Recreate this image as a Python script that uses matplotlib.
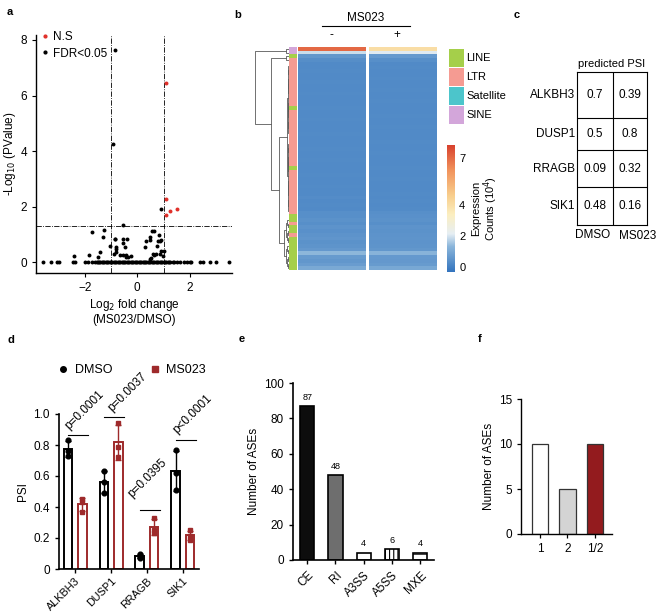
import matplotlib
matplotlib.use('Agg')
import matplotlib.pyplot as plt
import numpy as np
from matplotlib.colors import LinearSegmentedColormap, Normalize, to_rgb
from matplotlib.patches import Rectangle
from matplotlib.lines import Line2D
from matplotlib.cm import ScalarMappable

plt.rcParams['font.family'] = ['Liberation Sans', 'DejaVu Sans']
plt.rcParams['font.size'] = 8
plt.rcParams['axes.linewidth'] = 1.0
plt.rcParams['hatch.linewidth'] = 0.8

# ---------------- data ----------------
# panel a (volcano)
volc_black = [(-0.84, 7.64), (-0.92, 4.26), (0.91, 1.91), (-0.56, 1.33), (-1.26, 1.15),
              (-1.73, 1.07), (-1.31, 0.89), (-0.86, 0.82), (-0.83, 0.82), (-0.56, 0.82),
              (-0.39, 0.85), (-1.02, 0.60), (-0.82, 0.56), (-0.82, 0.46), (-0.82, 0.38),
              (-0.48, 0.56), (-0.56, 0.68), (-0.65, 0.25), (-0.55, 0.25), (-0.43, 0.25),
              (-2.39, 0.21), (-1.82, 0.25), (-1.48, 0.18), (-1.40, 0.35), (-0.90, 0.28),
              (-0.42, 0.20), (-0.34, 0.20), (-0.25, 0.23), (0.30, 0.55), (0.33, 0.77),
              (0.47, 0.79), (0.50, 0.91), (0.57, 1.13), (0.63, 1.13), (0.77, 0.77),
              (0.81, 0.97), (0.85, 0.76), (0.92, 0.80), (0.75, 0.59), (0.92, 0.42),
              (0.59, 0.30), (0.65, 0.27), (0.72, 0.28), (0.85, 0.29), (1.00, 0.40),
              (0.99, 0.23), (0.47, 0.11), (0.51, 0.14)]
volc_red = [(1.08, 6.44), (1.08, 2.27), (1.25, 1.83), (1.52, 1.92), (1.10, 1.70)]
volc_zero_x = [-3.57, -3.29, -3.06, -2.96, -2.45, -2.36, -1.97, -1.89, -1.71, -1.60, -1.54,
               -1.50, -1.45, -1.40, -1.35, -1.30, -1.25, -1.20, -1.15, -1.10, -1.05, -1.00,
               -0.95, -0.90, -0.85, -0.80, -0.75, -0.70, -0.65, -0.60, -0.55, -0.50, -0.45,
               -0.40, -0.35, -0.30, -0.25, -0.20, -0.15, -0.10, -0.05, 0.00, 0.05, 0.10,
               0.15, 0.20, 0.25, 0.30, 0.35, 0.40, 0.45, 0.50, 0.55, 0.60, 0.65, 0.70,
               0.75, 0.80, 0.85, 0.90, 0.95, 1.00, 1.05, 1.10, 1.15, 1.20, 1.25,
               1.34, 1.41, 1.51, 1.63, 1.76, 1.89, 1.99, 2.04, 2.40, 2.50, 2.78, 3.00, 3.50]

# panel b (heatmap)
heat_minus = [7.0, 1.9, 0.6, 0.38, 0.3, 0.3, 0.32, 0.3, 0.3, 0.31,
              0.3, 0.3, 0.33, 0.3, 0.3, 0.3, 0.31, 0.3, 0.3, 0.32,
              0.3, 0.3, 0.3, 0.31, 0.3, 0.3, 0.3, 0.33, 0.3, 0.3,
              0.31, 0.3, 0.3, 0.3, 0.32, 0.3, 0.3, 0.31, 0.3, 0.3,
              0.34, 0.3, 0.32, 0.3, 0.42, 0.4, 0.48, 0.42, 0.52, 0.45,
              0.5, 0.58, 0.48, 0.55, 0.62, 1.35, 0.7, 0.6, 0.72, 1.05]
heat_plus = [4.0, 2.1, 0.65, 0.4, 0.3, 0.31, 0.3, 0.3, 0.32, 0.3,
             0.3, 0.31, 0.3, 0.3, 0.33, 0.3, 0.3, 0.3, 0.31, 0.3,
             0.3, 0.32, 0.3, 0.3, 0.3, 0.31, 0.3, 0.3, 0.32, 0.3,
             0.3, 0.3, 0.31, 0.3, 0.3, 0.32, 0.3, 0.3, 0.3, 0.31,
             0.3, 0.33, 0.3, 0.32, 0.4, 0.43, 0.46, 0.4, 0.5, 0.47,
             0.52, 0.55, 0.5, 0.53, 0.6, 1.3, 0.68, 0.62, 0.7, 1.0]
row_types = list("PPGR" + "RRRRRRRRRRRRG" + "RRRRRRRRRRRRRRRG" + "RRRRRRRRRRRRG" + "GRGGRGGGGGGGGG")
repeat_classes = ['LINE', 'LTR', 'Satellite', 'SINE']
repeat_codes = ['G', 'R', 'C', 'P']
repeat_colors = ['#a5cf4a', '#f59b92', '#4cc5cb', '#d3a6da']
cbar_ticks = [0, 2, 4, 7]

# panel c (table)
table_genes = ['ALKBH3', 'DUSP1', 'RRAGB', 'SIK1']
psi_dmso = [0.7, 0.5, 0.09, 0.48]
psi_ms023 = [0.39, 0.8, 0.32, 0.16]

# panel d
genes = ['ALKBH3', 'DUSP1', 'RRAGB', 'SIK1']
dmso_pts = [[0.83, 0.76, 0.73], [0.63, 0.56, 0.49], [0.10, 0.08, 0.07], [0.77, 0.62, 0.51]]
ms023_pts = [[0.45, 0.43, 0.37], [0.94, 0.79, 0.72], [0.33, 0.25, 0.23], [0.25, 0.21, 0.19]]
p_labels = ['p=0.0001', 'p=0.0037', 'p=0.0395', 'p<0.0001']
sig_y = [0.865, 0.98, 0.38, 0.83]

# panel e
ase_types = ['CE', 'RI', 'A3SS', 'A5SS', 'MXE']
ase_counts = [87, 48, 4, 6, 4]

# panel f
f_labels = ['1', '2', '1/2']
f_counts = [10, 5, 10]

# ---------------- figure ----------------
W, H = 662, 616
fig = plt.figure(figsize=(W / 100, H / 100), dpi=100)


def add_ax(l, t, r, b):
    return fig.add_axes([l / W, 1 - b / H, (r - l) / W, (b - t) / H])


def fx(px):
    return px / W


def fy(py):
    return 1 - py / H


def panel_label(px, py, s):
    fig.text(fx(px), fy(py), s, fontsize=8, fontweight='bold', ha='left', va='center')


DARKRED = '#9e2a2b'
FS = 8.5

# ---- panel a ----
ax = add_ax(36, 35, 232, 273)
ax.scatter(volc_zero_x, np.zeros(len(volc_zero_x)), s=8, c='black', lw=0, zorder=3)
bx, by = zip(*volc_black)
ax.scatter(bx, by, s=8, c='black', lw=0, zorder=3)
rx, ry = zip(*volc_red)
ax.scatter(rx, ry, s=8, c='#e0302a', lw=0, zorder=3)
ax.axvline(-1, color='black', lw=0.6, ls='-.')
ax.axvline(1, color='black', lw=0.6, ls='-.')
ax.axhline(-np.log10(0.05), color='black', lw=0.6, ls='-.')
ax.set_xlim(-3.85, 3.6)
ax.set_ylim(-0.39, 8.18)
ax.set_xticks([-2, 0, 2])
ax.set_yticks([0, 2, 4, 6, 8])
for s in ['top', 'right']:
    ax.spines[s].set_visible(False)
ax.tick_params(length=3, labelsize=FS)
ax.set_ylabel('-Log$_{10}$ (PValue)', fontsize=FS, labelpad=2)
ax.set_xlabel('Log$_2$ fold change\n(MS023/DMSO)', fontsize=FS, labelpad=2, linespacing=1.1)
h_ns = Line2D([], [], ls='none', marker='o', ms=2, color='#e0302a')
h_fdr = Line2D([], [], ls='none', marker='o', ms=2, color='black')
ax.legend([h_ns, h_fdr], ['N.S', 'FDR<0.05'], loc='upper left', frameon=False, fontsize=FS,
          handlelength=0.6, handletextpad=0.3, borderaxespad=0.1, labelspacing=0.35,
          bbox_to_anchor=(0.0, 1.04))
panel_label(7, 12, 'a')

# ---- panel b ----
cmap = LinearSegmentedColormap.from_list('expr', [(0.0, '#3273bd'), (0.2, '#8ab5da'),
                                                  (0.3, '#e6eef3'), (0.45, '#fbeec0'),
                                                  (0.6, '#f8cf8e'), (0.8, '#f1935c'),
                                                  (1.0, '#d7402d')])
norm = Normalize(vmin=-0.3, vmax=7.8)
n = len(heat_minus)
ax_h = add_ax(298, 47, 437, 270)
ax_h.imshow(np.array(heat_minus)[:, None], extent=(0, 0.978, n, 0), aspect='auto',
            cmap=cmap, norm=norm, interpolation='nearest')
ax_h.imshow(np.array(heat_plus)[:, None], extent=(1.022, 2, n, 0), aspect='auto',
            cmap=cmap, norm=norm, interpolation='nearest')
ax_h.set_xlim(0, 2)
ax_h.set_ylim(n, 0)
ax_h.axis('off')

ax_r = add_ax(289, 47, 297, 270)
code_to_color = dict(zip(repeat_codes, repeat_colors))
rgb = np.array([[to_rgb(code_to_color[c])] for c in row_types[:n]])
ax_r.imshow(rgb, extent=(0, 1, n, 0), aspect='auto', interpolation='nearest')
ax_r.set_xlim(0, 1)
ax_r.set_ylim(n, 0)
ax_r.axis('off')

ax_d = add_ax(252, 47, 289, 270)


def bal(lo, hi, h):
    if hi - lo == 1:
        return lo
    mid = (lo + hi) // 2
    return (h, bal(lo, mid, h * 0.65), bal(mid, hi, h * 0.65))


tree = (1.0, (0.08, 0, 1), (0.54, (0.10, 2, 3), (0.29, bal(4, 46, 0.06), bal(46, 60, 0.14))))


def draw(node):
    if isinstance(node, int):
        return node + 0.5, 0.0
    h, L, R = node
    yl, hl = draw(L)
    yr, hr = draw(R)
    ax_d.plot([hl, h, h, hr], [yl, yl, yr, yr], color='#5a5a5a', lw=0.6)
    return (yl + yr) / 2, h


draw(tree)
ax_d.set_xlim(1.08, 0)
ax_d.set_ylim(n, 0)
ax_d.axis('off')

fig.text(fx(366), fy(18), 'MS023', ha='center', va='center', fontsize=FS)
fig.add_artist(Line2D([fx(322), fx(410)], [fy(26), fy(26)], color='black', lw=0.8))
fig.text(fx(331), fy(35), '-', ha='center', va='center', fontsize=FS)
fig.text(fx(397), fy(35), '+', ha='center', va='center', fontsize=FS)

for i, (lab, col) in enumerate(zip(repeat_classes, repeat_colors)):
    top = 49 + i * 19
    fig.add_artist(Rectangle((fx(449), fy(top + 18)), 15 / W, 18 / H, transform=fig.transFigure,
                             facecolor=col, edgecolor='none'))
    fig.text(fx(466), fy(top + 9), lab, ha='left', va='center', fontsize=8)

ax_c = add_ax(447, 145, 455, 272)
cb = fig.colorbar(ScalarMappable(norm=norm, cmap=cmap), cax=ax_c, ticks=cbar_ticks)
cb.outline.set_visible(False)
cb.ax.tick_params(length=0, pad=3, labelsize=8)
cb.set_label('Expression\nCounts (10$^4$)', fontsize=8, labelpad=4, linespacing=1.0)
panel_label(234, 15, 'b')

# ---- panel c ----
ax_t = add_ax(577, 72, 647, 225)
ax_t.set_xlim(577, 647)
ax_t.set_ylim(225, 72)
row_edges = [72, 118, 150, 187, 225]
for y in row_edges[1:-1]:
    ax_t.axhline(y, color='black', lw=0.8)
ax_t.axvline(613, color='black', lw=0.8)
for s in ax_t.spines.values():
    s.set_linewidth(0.8)
ax_t.set_xticks([])
ax_t.set_yticks([])
for i, g in enumerate(table_genes):
    yc = (row_edges[i] + row_edges[i + 1]) / 2
    ax_t.text(595, yc, str(psi_dmso[i]), ha='center', va='center', fontsize=FS)
    ax_t.text(630, yc, str(psi_ms023[i]), ha='center', va='center', fontsize=FS)
    ax_t.text(575, yc, g, ha='right', va='center', fontsize=FS)
ax_t.text(612, 64, 'predicted PSI', ha='center', va='center', fontsize=8)
ax_t.text(593, 235, 'DMSO', ha='center', va='center', fontsize=FS)
ax_t.text(638, 236, 'MS023', ha='center', va='center', fontsize=FS)
panel_label(514, 15, 'c')

# ---- panel d ----
ax = add_ax(59, 414, 199, 569)
x = np.arange(len(genes))
off = 0.2
bw = 0.24
dm_mean = [np.mean(p) for p in dmso_pts]
ms_mean = [np.mean(p) for p in ms023_pts]
dm_sd = [np.std(p, ddof=1) for p in dmso_pts]
ms_sd = [np.std(p, ddof=1) for p in ms023_pts]
ax.bar(x - off, dm_mean, width=bw, facecolor='white', edgecolor='black', lw=1.4, zorder=2)
ax.bar(x + off, ms_mean, width=bw, facecolor='white', edgecolor=DARKRED, lw=1.4, zorder=2)
ax.errorbar(x - off, dm_mean, yerr=dm_sd, fmt='none', ecolor='black', elinewidth=1.0,
            capsize=2.5, capthick=1.0, zorder=3)
ax.errorbar(x + off, ms_mean, yerr=ms_sd, fmt='none', ecolor=DARKRED, elinewidth=1.0,
            capsize=2.5, capthick=1.0, zorder=3)
for i in range(len(genes)):
    ax.plot([x[i] - off] * 3, dmso_pts[i], ls='none', marker='o', ms=3.4, color='black', zorder=4)
    ax.plot([x[i] + off] * 3, ms023_pts[i], ls='none', marker='s', ms=3.4, color=DARKRED, zorder=4)
text_pos = [(-0.12, 0.885), (0.1, 1.0), (-0.35, 0.445), (-0.1, 0.855)]
for i in range(len(genes)):
    ax.plot([x[i] - 0.2, x[i] + 0.36], [sig_y[i], sig_y[i]], color='black', lw=0.8, clip_on=False)
    tx, ty = text_pos[i]
    ax.text(x[i] + tx, ty, p_labels[i], rotation=45, rotation_mode='anchor', ha='left',
            va='bottom', fontsize=FS)
ax.set_xlim(-0.45, 3.45)
ax.set_ylim(0, 1.0)
ax.set_yticks([0, 0.2, 0.4, 0.6, 0.8, 1.0])
ax.set_yticklabels(['0', '0.2', '0.4', '0.6', '0.8', '1.0'])
ax.set_xticks(x)
ax.set_xticklabels(genes, rotation=45, ha='right', rotation_mode='anchor', fontsize=7.8)
for s in ['top', 'right']:
    ax.spines[s].set_visible(False)
ax.spines['left'].set_linewidth(1.2)
ax.spines['bottom'].set_linewidth(1.2)
ax.tick_params(axis='y', length=3, width=1.0, labelsize=FS)
ax.tick_params(axis='x', length=3, width=1.0, pad=2)
ax.set_ylabel('PSI', fontsize=FS, labelpad=3)
h_dm = Line2D([], [], ls='none', marker='o', ms=4, color='black')
h_ms = Line2D([], [], ls='none', marker='s', ms=4, color=DARKRED)
ax.legend([h_dm, h_ms], ['DMSO', 'MS023'], loc='center', bbox_to_anchor=(fx(132), fy(370)),
          bbox_transform=fig.transFigure, ncol=2, frameon=False, fontsize=9,
          handlelength=0.8, handletextpad=0.5, columnspacing=3.0)
panel_label(7, 340, 'd')

# ---- panel e ----
ax = add_ax(293, 383, 434, 560)
xe = np.arange(len(ase_types))
e_faces = ['#0d0d0d', '#6e6e6e', 'white', 'white', 'white']
e_hatch = [None, None, None, '||||', '--']
for i in range(len(ase_types)):
    ax.bar(xe[i], ase_counts[i], width=0.5, facecolor=e_faces[i], edgecolor='black', lw=1.2,
           hatch=e_hatch[i], zorder=2)
    ax.text(xe[i], ase_counts[i] + 2.5, str(ase_counts[i]), ha='center', va='bottom', fontsize=6.5)
ax.set_xlim(-0.5, 4.48)
ax.set_ylim(0, 100)
ax.set_yticks([0, 20, 40, 60, 80, 100])
ax.set_xticks(xe)
ax.set_xticklabels(ase_types, rotation=45, ha='right', rotation_mode='anchor')
for s in ['top', 'right']:
    ax.spines[s].set_visible(False)
ax.spines['left'].set_linewidth(1.2)
ax.spines['bottom'].set_linewidth(1.2)
ax.tick_params(length=3, width=1.0, labelsize=FS)
ax.set_ylabel('Number of ASEs', fontsize=FS, labelpad=3)
panel_label(239, 339, 'e')

# ---- panel f ----
ax = add_ax(521, 399, 612, 534)
xf = np.arange(len(f_labels))
ax.bar(xf, f_counts, width=0.6, color=['white', '#d4d4d4', '#931b1e'], edgecolor='#333333',
       lw=0.9, zorder=2)
ax.set_xlim(-0.69, 2.62)
ax.set_ylim(0, 15)
ax.set_yticks([0, 5, 10, 15])
ax.set_xticks(xf)
ax.set_xticklabels(f_labels)
for s in ['top', 'right']:
    ax.spines[s].set_visible(False)
ax.tick_params(length=3, width=0.9, labelsize=FS)
ax.set_ylabel('Number of ASEs', fontsize=FS, labelpad=3)
panel_label(478, 339, 'f')

fig.savefig('out.png', dpi=100)
